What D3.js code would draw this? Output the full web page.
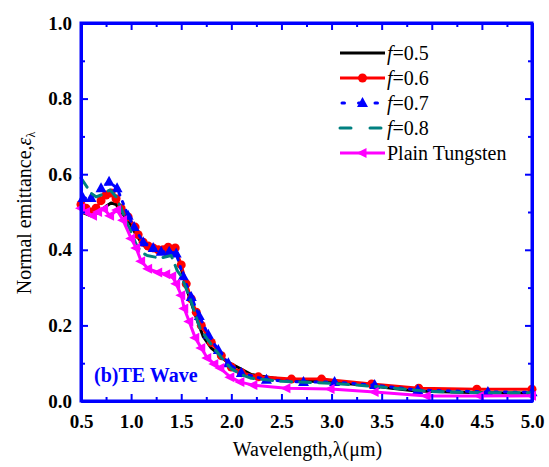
<!DOCTYPE html>
<html>
<head>
<meta charset="utf-8">
<script src="https://cdn.jsdelivr.net/npm/d3@7"></script>
<style>
  body { margin: 0; background: #fff; }
  svg, svg text { font-family: "Liberation Serif", "DejaVu Serif", "Times New Roman", serif !important; }
</style>
</head>
<body>
<script>
// emittance.js
const width = 549;
const height = 467;
const margin = {top: 23, right: 17, bottom: 66, left: 81};

const xTicks = [0.5, 1.0, 1.5, 2.0, 2.5, 3.0, 3.5, 4.0, 4.5, 5.0];
const yTicks = [0.0, 0.2, 0.4, 0.6, 0.8, 1.0];

// f=0.5 (no markers)
const f05 = [
  [0.5, 0.50], [0.55, 0.495], [0.6, 0.49], [0.65, 0.495], [0.7, 0.505], [0.75, 0.515],
  [0.8, 0.524], [0.85, 0.52], [0.9, 0.50], [0.95, 0.485], [1.0, 0.465], [1.05, 0.44],
  [1.1, 0.42], [1.15, 0.405], [1.2, 0.40], [1.25, 0.397], [1.3, 0.395], [1.35, 0.397],
  [1.4, 0.40], [1.45, 0.395], [1.5, 0.35], [1.55, 0.30], [1.6, 0.26], [1.65, 0.22],
  [1.72, 0.17], [1.8, 0.14], [1.86, 0.127], [1.95, 0.105], [2.06, 0.09], [2.2, 0.07],
  [2.42, 0.061], [2.6, 0.055], [2.8, 0.052], [3.0, 0.049], [3.2, 0.045], [3.4, 0.04],
  [3.6, 0.034], [3.8, 0.028], [4.0, 0.025], [4.5, 0.022], [5.0, 0.021]
];

// f=0.6 (red circles)
const f06 = [
  [0.5, 0.52], [0.55, 0.51], [0.6, 0.50], [0.65, 0.51], [0.7, 0.53], [0.75, 0.545],
  [0.8, 0.55], [0.85, 0.535], [0.9, 0.51], [0.97, 0.487], [1.04, 0.46], [1.07, 0.44],
  [1.12, 0.42], [1.17, 0.41], [1.22, 0.405], [1.27, 0.40], [1.32, 0.40], [1.37, 0.407],
  [1.44, 0.405], [1.5, 0.36], [1.55, 0.31], [1.6, 0.27], [1.65, 0.235], [1.7, 0.20],
  [1.8, 0.155], [1.9, 0.12], [2.0, 0.09], [2.1, 0.075], [2.27, 0.064], [2.6, 0.058],
  [2.9, 0.058], [3.4, 0.045], [3.87, 0.034], [4.45, 0.031], [5.0, 0.031]
];

// f=0.7 (blue triangles, dotted)
const f07 = [
  [0.52, 0.537], [0.6, 0.537], [0.7, 0.563], [0.78, 0.58], [0.86, 0.563], [0.97, 0.49],
  [1.03, 0.46], [1.12, 0.42], [1.22, 0.405], [1.3, 0.395], [1.38, 0.395], [1.45, 0.39],
  [1.52, 0.33], [1.6, 0.275], [1.68, 0.225], [1.77, 0.175], [1.87, 0.135], [1.97, 0.10],
  [2.1, 0.074], [2.35, 0.056], [2.72, 0.05], [3.03, 0.05], [3.43, 0.042], [3.86, 0.029],
  [4.56, 0.024], [5.0, 0.023]
];

// f=0.8 (teal dashed)
const f08 = [
  [0.5, 0.59], [0.55, 0.57], [0.6, 0.55], [0.65, 0.54], [0.7, 0.545], [0.75, 0.553],
  [0.79, 0.558], [0.85, 0.54], [0.9, 0.51], [0.95, 0.475], [1.0, 0.447], [1.05, 0.415],
  [1.1, 0.394], [1.16, 0.385], [1.29, 0.378], [1.4, 0.385], [1.46, 0.345], [1.5, 0.33],
  [1.59, 0.27], [1.69, 0.19], [1.77, 0.16], [1.9, 0.115], [2.0, 0.085], [2.1, 0.07],
  [2.2, 0.06], [2.5, 0.052], [3.0, 0.047], [3.5, 0.037], [4.0, 0.025], [4.5, 0.022],
  [5.0, 0.022]
];

// plain tungsten (magenta left triangles)
const plain = [
  [0.5, 0.51], [0.55, 0.50], [0.62, 0.49], [0.67, 0.50], [0.73, 0.508], [0.79, 0.49],
  [0.86, 0.505], [0.92, 0.478], [1.0, 0.43], [1.05, 0.405], [1.1, 0.37], [1.17, 0.35],
  [1.27, 0.34], [1.35, 0.335], [1.41, 0.33], [1.45, 0.31], [1.5, 0.28], [1.53, 0.245],
  [1.58, 0.21], [1.64, 0.167], [1.7, 0.14], [1.76, 0.114], [1.83, 0.098], [1.89, 0.087],
  [1.99, 0.063], [2.09, 0.05], [2.22, 0.042], [2.55, 0.034], [2.99, 0.032], [3.43, 0.024],
  [3.95, 0.013], [4.48, 0.013], [5.0, 0.014]
];

const labels = ['0.5', '0.6', '0.7', '0.8', 'Plain Tungsten'];

const x = d3.scaleLinear()
  .domain([0.5, 5.0])
  .range([margin.left, width - margin.right]);

const y = d3.scaleLinear()
  .domain([0, 1])
  .range([height - margin.bottom, margin.top]);

const svg = d3.select('body').append('svg')
  .attr('width', width).attr('height', height);

const blue = '#0000ff';
const xMinor = d3.range(0.75, 5.0, 0.5);
const yMinor = d3.range(0.1, 1.0, 0.2);

const line = d3.line()
  .x(d => x(d[0]))
  .y(d => y(d[1]));

// series
const series = [
  {data: f05, color: '#000000', dash: null, marker: null},
  {data: f06, color: '#ff0000', dash: null, marker: 'circle'},
  {data: f07, color: '#0000ff', dash: '2.5,7', marker: 'tri'},
  {data: f08, color: '#008080', dash: '11,8', marker: null},
  {data: plain, color: '#ff00ff', dash: null, marker: 'left'}
];

const plot = svg.append('g');

function drawMarker(g, type, color) {
  if (type === 'circle') {
    g.append('circle').attr('r', 4.5).attr('fill', color);
  } else if (type === 'tri') {
    g.append('path').attr('d', 'M0,-6L5.5,4L-5.5,4Z').attr('fill', color);
  } else if (type === 'left') {
    g.append('path').attr('d', 'M-6,0L4,-5L4,5Z').attr('fill', color);
  }
}

for (const s of series) {
  plot.append('path')
    .datum(s.data)
    .attr('fill', 'none')
    .attr('stroke', s.color)
    .attr('stroke-width', 3)
    .attr('stroke-linecap', s.dash ? 'round' : 'butt')
    .attr('stroke-linejoin', 'round')
    .attr('stroke-dasharray', s.dash)
    .attr('d', line);
  if (s.marker) {
    plot.selectAll(null)
      .data(s.data)
      .join('g')
      .attr('transform', d => `translate(${x(d[0])},${y(d[1])})`)
      .each(function() { drawMarker(d3.select(this), s.marker, s.color); });
  }
}

// axes
function styleAxis(g) {
  g.attr('font-family', null);
  g.select('.domain').attr('stroke', blue).attr('stroke-width', 3);
  g.selectAll('.tick line').attr('stroke', blue).attr('stroke-width', 2);
  g.selectAll('.tick text')
    .attr('fill', '#000')
    .attr('font-size', '19px')
    .attr('font-weight', 'bold');
}

const bottomY = height - margin.bottom;
const rightX = width - margin.right;

svg.append('g')
  .attr('transform', `translate(0,${bottomY})`)
  .call(d3.axisBottom(x).tickValues(xMinor).tickSize(-4).tickFormat('').tickSizeOuter(0))
  .call(styleAxis);
svg.append('g')
  .attr('transform', `translate(0,${bottomY})`)
  .call(d3.axisBottom(x).tickValues(xTicks).tickSize(-7).tickPadding(14)
    .tickFormat(d3.format('.1f')).tickSizeOuter(0))
  .call(styleAxis);

svg.append('g')
  .attr('transform', `translate(0,${margin.top})`)
  .call(d3.axisTop(x).tickValues(xMinor).tickSize(-4).tickFormat('').tickSizeOuter(0))
  .call(styleAxis);
svg.append('g')
  .attr('transform', `translate(0,${margin.top})`)
  .call(d3.axisTop(x).tickValues(xTicks).tickSize(-7).tickFormat('').tickSizeOuter(0))
  .call(styleAxis);

svg.append('g')
  .attr('transform', `translate(${margin.left},0)`)
  .call(d3.axisLeft(y).tickValues(yMinor).tickSize(-4).tickFormat('').tickSizeOuter(0))
  .call(styleAxis);
svg.append('g')
  .attr('transform', `translate(${margin.left},0)`)
  .call(d3.axisLeft(y).tickValues(yTicks).tickSize(-7).tickPadding(9)
    .tickFormat(d3.format('.1f')).tickSizeOuter(0))
  .call(styleAxis);

svg.append('g')
  .attr('transform', `translate(${rightX},0)`)
  .call(d3.axisRight(y).tickValues(yMinor).tickSize(-4).tickFormat('').tickSizeOuter(0))
  .call(styleAxis);
svg.append('g')
  .attr('transform', `translate(${rightX},0)`)
  .call(d3.axisRight(y).tickValues(yTicks).tickSize(-7).tickFormat('').tickSizeOuter(0))
  .call(styleAxis);

// frame
svg.append('rect')
  .attr('x', margin.left).attr('y', margin.top)
  .attr('width', rightX - margin.left).attr('height', bottomY - margin.top)
  .attr('fill', 'none').attr('stroke', blue).attr('stroke-width', 3);

// axis titles
svg.append('text')
  .attr('x', (margin.left + rightX) / 2 + 1)
  .attr('y', 456)
  .attr('text-anchor', 'middle')
  .attr('font-size', '20px')
  .text('Wavelength,λ(μm)');

const yTitle = svg.append('text')
  .attr('transform', `translate(31,${(margin.top + bottomY) / 2 + 1}) rotate(-90)`)
  .attr('text-anchor', 'middle')
  .attr('font-size', '20px');
yTitle.append('tspan').text('Normal emittance,');
yTitle.append('tspan').attr('font-style', 'italic').text('ε');
yTitle.append('tspan').attr('font-size', '12px').attr('dy', 4).text('λ');

// panel label
svg.append('text')
  .attr('x', 94).attr('y', 382)
  .attr('font-size', '20px')
  .attr('font-weight', 'bold')
  .attr('fill', blue)
  .text('(b)TE Wave');

// legend
const legend = svg.append('g').attr('transform', 'translate(340,53)');
series.forEach((s, i) => {
  const row = legend.append('g').attr('transform', `translate(0,${i * 25})`);
  row.append('line')
    .attr('x1', 0).attr('x2', 45)
    .attr('stroke', s.color)
    .attr('stroke-width', 3)
    .attr('stroke-linecap', s.dash ? 'round' : 'butt')
    .attr('stroke-dasharray', s.dash === '11,8' ? '11,19' : (s.dash ? '2.5,14' : null))
    .attr('stroke-dashoffset', s.dash === '11,8' ? 0 : (s.dash ? -2 : 0));
  if (s.marker) {
    const m = row.append('g').attr('transform', 'translate(22.5,0)');
    drawMarker(m, s.marker, s.color);
  }
  const t = row.append('text')
    .attr('x', 47).attr('y', 7)
    .attr('font-size', '20px');
  if (i < 4) {
    t.append('tspan').attr('font-style', 'italic').text('f');
    t.append('tspan').text('=' + labels[i]);
  } else {
    t.text(labels[i]);
  }
});
</script>
</body>
</html>
